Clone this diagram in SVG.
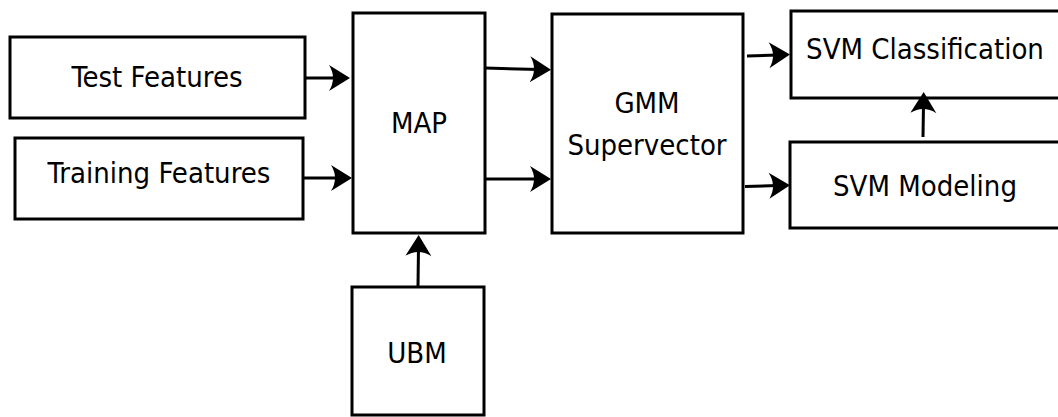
<svg xmlns="http://www.w3.org/2000/svg" width="1058" height="417" viewBox="0 0 1058 417">
  <style>
    .box { fill: #ffffff; stroke: #000000; stroke-width: 3; }
    .lbl { font-family: "DejaVu Sans Condensed", "DejaVu Sans", sans-serif; font-stretch: condensed; font-size: 29px; fill: #000000; text-anchor: middle; }
    .arr { fill: none; stroke: #000000; stroke-width: 3; marker-end: url(#head); }
  </style>
  <defs>
    <marker id="head" viewBox="-23 -14 25 28" refX="-12" refY="0" markerWidth="25" markerHeight="28" markerUnits="userSpaceOnUse" orient="auto">
      <path d="M0,0 L-21,-13 Q-13,0 -21,13 Z" fill="#000000"/>
    </marker>
  </defs>
  <rect x="0" y="0" width="1058" height="417" fill="#ffffff"/>
  <g id="test-features">
    <rect class="box" x="10" y="37" width="295" height="81"/>
    <text class="lbl" x="157" y="87">Test Features</text>
  </g>
  <g id="training-features">
    <rect class="box" x="15" y="138" width="288" height="81"/>
    <text class="lbl" x="159" y="183">Training Features</text>
  </g>
  <g id="map">
    <rect class="box" x="353" y="13" width="132" height="220"/>
    <text class="lbl" x="419" y="133">MAP</text>
  </g>
  <g id="gmm-supervector">
    <rect class="box" x="552" y="14" width="191" height="219"/>
    <text class="lbl" x="647" y="113">GMM</text>
    <text class="lbl" x="647" y="155">Supervector</text>
  </g>
  <g id="svm-classification">
    <rect class="box" x="791" y="11" width="280" height="87"/>
    <text class="lbl" x="925" y="59">SVM Classification</text>
  </g>
  <g id="svm-modeling">
    <rect class="box" x="790" y="142" width="280" height="86"/>
    <text class="lbl" x="925" y="196">SVM Modeling</text>
  </g>
  <g id="ubm">
    <rect class="box" x="352" y="287" width="132" height="128"/>
    <text class="lbl" x="417" y="363">UBM</text>
  </g>
  <g id="connectors">
    <path class="arr" d="M305,78 L338,78"/>
    <path class="arr" d="M303,178 L340,178"/>
    <path class="arr" d="M485,68 L539,69.5"/>
    <path class="arr" d="M485,179 L539,179"/>
    <path class="arr" d="M747,56 L778,55"/>
    <path class="arr" d="M745,186.5 L778,185.5"/>
    <path class="arr" d="M923,137 L923.5,104"/>
    <path class="arr" d="M418,287 L418.5,247"/>
  </g>
</svg>
